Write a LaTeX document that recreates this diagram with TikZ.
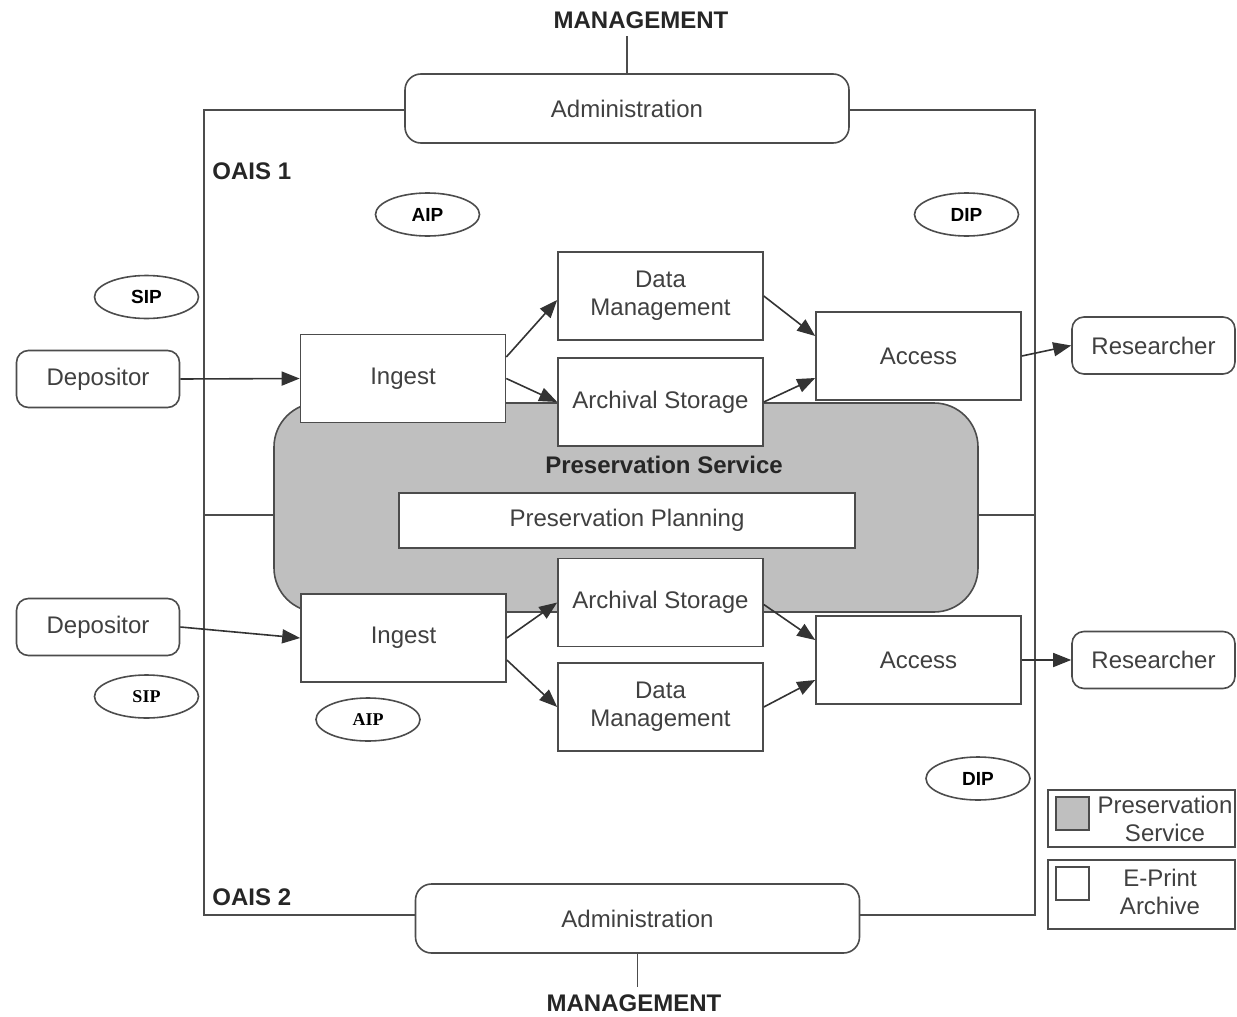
\documentclass[tikz,border=0pt]{standalone}
\usepackage{fontspec}
\setmainfont{Liberation Sans}
\newfontfamily\timesbold{Liberation Serif}[BoldFont={Liberation Serif Bold}]
\usetikzlibrary{shapes.geometric,arrows.meta}

\definecolor{linegray}{gray}{0.3}
\definecolor{textgray}{gray}{0.25}
\definecolor{servicegray}{gray}{0.75}

\begin{document}
\begin{tikzpicture}[x=0.5pt, y=-0.5pt, line width=0.8pt,
    every node/.style={text=textgray, font=\fontsize{12}{14}\selectfont},
    box/.style={draw=linegray, fill=white, rectangle, align=center, minimum width=102.5pt, minimum height=44pt},
    actor/.style={draw=linegray, fill=white, rounded corners=6pt, minimum width=81.5pt, minimum height=28.5pt},
    admin/.style={draw=linegray, fill=white, rounded corners=8pt, minimum width=222pt, minimum height=34.5pt},
    pkg/.style={draw=linegray, ellipse, minimum width=52pt, minimum height=21.5pt, inner sep=0pt, text=black, font=\fontsize{9.5}{11}\selectfont\bfseries},
    heading/.style={text=black!85, font=\fontsize{12}{14}\selectfont\bfseries},
    flow/.style={draw=black!80, -{Triangle[length=9pt,width=7pt]}}]
    \useasboundingbox (0,0) rectangle (1237,1017);

    \node[draw=linegray, minimum width=415.5pt, minimum height=402.5pt, inner sep=0pt] (oais) at (619.5,512.5) {};
    \node[draw=linegray, fill=servicegray, rounded corners=22pt, minimum width=352pt, minimum height=104.5pt] (svc) at (626,507.5) {};
    \draw[draw=linegray] ([yshift=-3.75pt]svc.west) -- ([yshift=-3.75pt]svc.west -| oais.west);
    \draw[draw=linegray] ([yshift=-3.75pt]svc.east) -- ([yshift=-3.75pt]svc.east -| oais.east);
    \node[heading] (svclabel) at (664,465) {Preservation Service};
    \node[box, minimum width=228pt, minimum height=27.5pt] (plan) at (627,520.5) {Preservation Planning};

    \node[heading] (mgmt1) at (641,20) {MANAGEMENT};
    \node[admin] (adm1) at (627,108.5) {Administration};
    \draw[draw=linegray] (adm1.north) -- (adm1.north |- mgmt1.south);
    \node[admin] (adm2) at (637.5,918.5) {Administration};
    \node[heading] (mgmt2) at (634,1003) {MANAGEMENT};
    \draw[draw=linegray] (adm2.south) -- (adm2.south |- mgmt2.north);

    \node[heading, anchor=west] (oais1) at (205,171) {OAIS 1};
    \node[heading, anchor=west] (oais2) at (205,897) {OAIS 2};

    \node[actor] (dep1) at (98,379) {Depositor};
    \node[box] (ing1) at (403,378.5) {Ingest};
    \node[box] (dm1) at (660.5,296) {Data\\Management};
    \node[box] (as1) at (660.5,402) {Archival Storage};
    \node[box] (acc1) at (918.5,356) {Access};
    \node[actor] (res1) at (1153.5,345.5) {Researcher};

    \node[actor] (dep2) at (98,627) {Depositor};
    \node[box] (ing2) at (403.5,638) {Ingest};
    \node[box] (as2) at (660.5,602.5) {Archival Storage};
    \node[box] (dm2) at (660.5,707) {Data\\Management};
    \node[box] (acc2) at (918.5,660) {Access};
    \node[actor] (res2) at (1153.5,660) {Researcher};

    \draw[flow] (dep1.east) -- (ing1.west);
    \draw[flow] ([yshift=10.75pt]ing1.east) -- ([yshift=-2pt]dm1.west);
    \draw[flow] (ing1.east) -- (as1.west);
    \draw[flow] (dm1.east) -- ([yshift=10pt]acc1.west);
    \draw[flow] (as1.east) -- ([yshift=-11pt]acc1.west);
    \draw[flow] (acc1.east) -- (res1.west);

    \draw[flow] (dep2.east) -- (ing2.west);
    \draw[flow] (ing2.east) -- (as2.west);
    \draw[flow] ([yshift=-11pt]ing2.east) -- (dm2.west);
    \draw[flow] ([yshift=-1pt]as2.east) -- ([yshift=10pt]acc2.west);
    \draw[flow] (dm2.east) -- ([yshift=-10pt]acc2.west);
    \draw[flow] (acc2.east) -- (res2.west);

    \node[pkg] (sip1) at (146.5,297) {SIP};
    \node[pkg] (aip1) at (427.5,214.5) {AIP};
    \node[pkg] (dip1) at (966.5,214.5) {DIP};
    \node[pkg, font=\fontsize{9}{11}\timesbold\bfseries] (sip2) at (146.5,696.5) {SIP};
    \node[pkg, font=\fontsize{9}{11}\timesbold\bfseries] (aip2) at (368,719.5) {AIP};
    \node[pkg] (dip2) at (978,778.5) {DIP};

    \node[draw=linegray, minimum width=93.5pt, minimum height=28.5pt] (leg1) at (1141.5,818.5) {};
    \node[draw=linegray, fill=servicegray, minimum size=16.5pt, inner sep=0pt] (sw1) at (1072.5,813.5) {};
    \node[align=center] (leg1text) at (1165,819) {Preservation\\Service};
    \node[draw=linegray, minimum width=93.5pt, minimum height=34.5pt] (leg2) at (1141.5,894.5) {};
    \node[draw=linegray, fill=white, minimum size=16.5pt, inner sep=0pt] (sw2) at (1072.5,883.5) {};
    \node[align=center] (leg2text) at (1160,892) {E-Print\\Archive};
\end{tikzpicture}
\end{document}
